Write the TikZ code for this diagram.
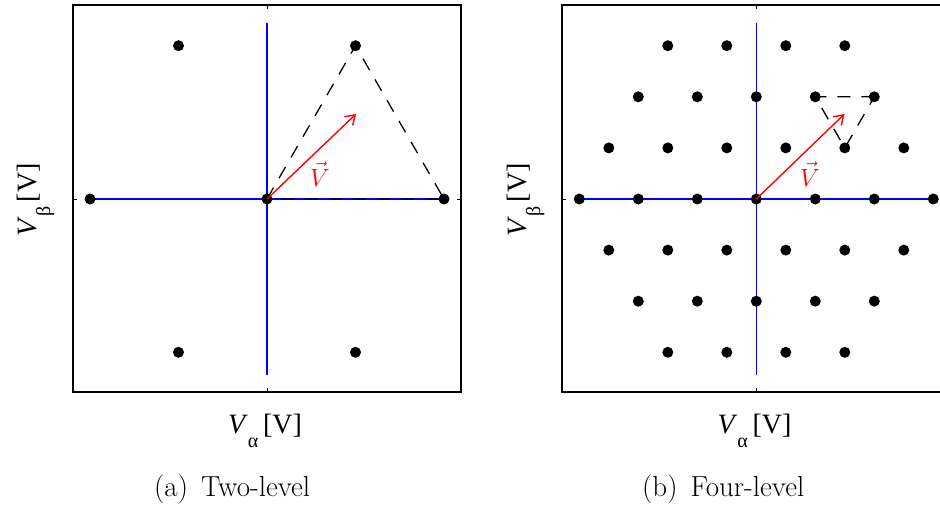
\documentclass[tikz,border=0pt]{standalone}
\usepackage{fontspec}
\newfontfamily\tnr{Liberation Serif}
\newcommand\subfnt{\tnr\fontsize{20}{20}\selectfont}
\usetikzlibrary{arrows.meta}
\begin{document}
\begin{tikzpicture}[x=1pt,y=-1pt,
  dotnode/.style={circle,fill=black,draw=none,inner sep=0pt,minimum size=11pt},
  framebox/.style={line width=1.3pt},
  tickline/.style={line width=0.9pt},
  axisline/.style={blue,line width=1.5pt},
  triline/.style={black,line width=1.3pt,dash pattern=on 13pt off 11pt},
  vecline/.style={red,line width=1.4pt,-{Straight Barb[length=9pt,width=12pt]}},
  axlab/.style={font=\tnr\fontsize{28}{28}\selectfont,inner sep=0pt,anchor=base},
  captext/.style={font=\fontsize{29}{29}\selectfont,inner sep=0pt,anchor=base west},
  vlab/.style={red,font=\fontsize{24}{24}\selectfont,inner sep=0pt}]
\useasboundingbox (0,0) rectangle (940,504);

% ---------------- left panel ----------------
\draw[framebox] (73,5) rectangle (461,392);
\draw[tickline] (267,5) -- (267,9);
\draw[tickline] (267,392) -- (267,388);
\draw[tickline] (73,199) -- (77,199);
\draw[tickline] (461,199) -- (457,199);

\coordinate (a0) at (267,199);
\coordinate (a1) at (444,199);
\coordinate (a2) at (355.5,45.7);
\coordinate (a3) at (178.5,45.7);
\coordinate (a4) at (90,199);
\coordinate (a5) at (178.5,352.3);
\coordinate (a6) at (355.5,352.3);
\coordinate (aT) at (267,23);
\coordinate (aB) at (267,375);
\coordinate (aV) at (356,114);

\draw[axisline] (a4) -- (a1);
\draw[axisline] (aT) -- (aB);
\draw[triline] (a0) -- (a2) -- (a1) -- cycle;
\foreach \p in {a0,a1,a2,a3,a4,a5,a6} \node[dotnode] (d-\p) at (\p) {};
\draw[vecline] (a0) -- (aV);
\node[vlab] (lVa) at (320,174) {$\vec{V}$};

\node[axlab,rotate=90] (ylA) at (36,200) {\textit{V}\raisebox{-14pt}{\subfnt β}\,[V]};
\node[axlab] (xlA) at (265,433) {\textit{V}\raisebox{-14pt}{\subfnt α}\,[V]};
\node[captext] (capA) at (154,496) {(a)\hspace{13pt}Two-level};

% ---------------- right panel ----------------
\draw[framebox] (940,5) -- (562,5) -- (562,392) -- (940,392);
\draw[tickline] (756.3,5) -- (756.3,9);
\draw[tickline] (756.3,392) -- (756.3,388);
\draw[tickline] (562,199) -- (566,199);

\foreach \j in {-3,...,3} {
  \pgfmathtruncatemacro\n{6-abs(\j)}
  \foreach \k in {0,...,\n} {
    \coordinate (b-\j-\k) at ({756.3+59*(\k-\n/2)},{199-51.1*\j});
  }
}
\coordinate (bL) at (579.3,199);
\coordinate (bR) at (933.3,199);
\coordinate (bT) at (756.3,23);
\coordinate (bB) at (756.3,375);
\coordinate (bV) at (844.5,114);

\draw[axisline] (bL) -- (bR);
\draw[axisline] (bT) -- (bB);
\draw[triline] (b-2-4) -- (b-2-3) -- (b-1-4) -- cycle;
\foreach \j in {-3,...,3} {
  \pgfmathtruncatemacro\n{6-abs(\j)}
  \foreach \k in {0,...,\n} {
    \node[dotnode] (db-\j-\k) at (b-\j-\k) {};
  }
}
\draw[vecline] (b-0-3) -- (bV);
\node[vlab] (lVb) at (810,174) {$\vec{V}$};

\node[axlab,rotate=90] (ylB) at (526,200) {\textit{V}\raisebox{-14pt}{\subfnt β}\,[V]};
\node[axlab] (xlB) at (754.5,433) {\textit{V}\raisebox{-14pt}{\subfnt α}\,[V]};
\node[captext] (capB) at (642,496) {(b)\hspace{13pt}Four-level};
\end{tikzpicture}
\end{document}
